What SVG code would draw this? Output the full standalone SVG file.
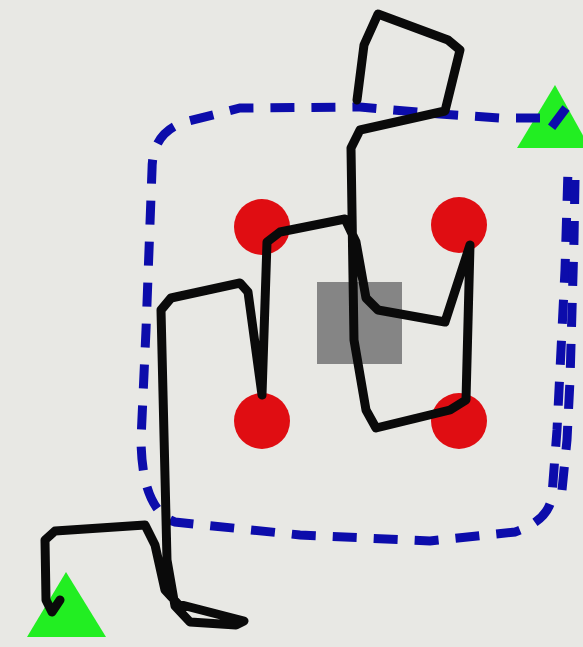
<svg xmlns="http://www.w3.org/2000/svg" width="583" height="647" viewBox="0 0 583 647">
<style>
.dash{fill:none;stroke:#0c0cab;stroke-width:9;stroke-dasharray:24 17;stroke-linecap:butt}
.ink{fill:none;stroke:#0a0a0a;stroke-width:9;stroke-linejoin:round;stroke-linecap:round}
.tri{fill:#22ee22}
.dot{fill:#e00d12}
</style>
<rect width="583" height="647" fill="#e8e8e4"/>
<g id="tri-top"><polygon class="tri" points="555,85 517,148 590,148"/></g>
<g id="tri-bottom"><polygon class="tri" points="66,572 27,637 106,637"/></g>
<g id="square"><rect x="317" y="282" width="85" height="82" fill="#858585"/></g>
<g id="circles">
<circle class="dot" cx="262" cy="227" r="28"/>
<circle class="dot" cx="459" cy="225" r="28"/>
<circle class="dot" cx="262" cy="421" r="28"/>
<circle class="dot" cx="459" cy="421" r="28"/>
</g>
<g id="boundary">
<path class="dash" d="M540,118 L500,118 L440,114 L360,107 L240,108 L185,122 Q152,132 152,170 L146,330 L141,440 Q142,510 175,522 L300,535 L430,541 L515,532 Q550,520 552,495 L557,430 L561,350 L565,270 L568,170"/>
<path class="dash" d="M566,108 L551,128 M575,180 L574,240 L572,310 L570,380 L567,440 L562,490"/>
</g>
<g id="connectors">
<path class="ink" d="M60,600 L52,612 L46,600 L45,540 L55,531 L145,525 L155,545 L165,590 L178,604 L244,621 L236,625 L190,622 L175,606 L167,560 L161,310 L171,298 L240,283 L248,292 L262,395 L267,242 L280,232 L345,219 L356,242 L366,298 L378,310 L445,322 L470,245 L466,400 L450,410 L376,428 L366,410 L354,340 L351,148 L360,130 L445,111 L460,50 L448,40 L378,14 L364,45 L357,100"/>
</g>
</svg>
